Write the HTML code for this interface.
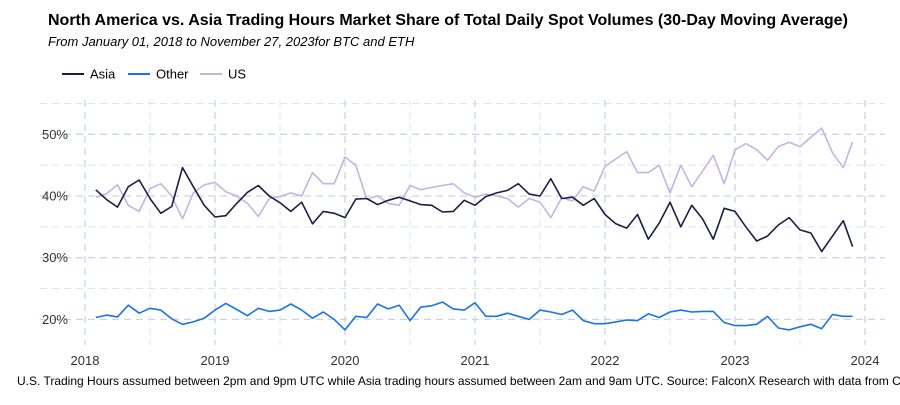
<!DOCTYPE html>
<html><head><meta charset="utf-8"><style>
body{margin:0;background:#fff;width:900px;height:400px;overflow:hidden;font-family:"Liberation Sans",sans-serif}
</style></head><body>
<svg id="chart" width="900" height="400" xmlns="http://www.w3.org/2000/svg" font-family="Liberation Sans, sans-serif">
<text x="48" y="25" font-size="16" font-weight="bold" fill="#000">North America vs. Asia Trading Hours Market Share of Total Daily Spot Volumes (30-Day Moving Average)</text>
<text x="48" y="46" font-size="13" font-style="italic" fill="#000">From January 01, 2018 to November 27, 2023for BTC and ETH</text>
<g>
<g><line x1="62" y1="74" x2="84" y2="74" stroke="#1a1f45" stroke-width="2"/><text x="90" y="78.5" font-size="13">Asia</text></g>
<g><line x1="128" y1="74" x2="150" y2="74" stroke="#1a73e8" stroke-width="2"/><text x="156" y="78.5" font-size="13">Other</text></g>
<g><line x1="200" y1="74" x2="222" y2="74" stroke="#c5b4e3" stroke-width="2"/><text x="228" y="78.5" font-size="13">US</text></g>
</g>
<g id="grid"></g>
<g id="axes"></g>
<g id="series"></g>
<text x="17" y="385" font-size="12" fill="#000">U.S. Trading Hours assumed between 2pm and 9pm UTC while Asia trading hours assumed between 2am and 9am UTC. Source: FalconX Research with data from Coin Metrics</text>
</svg>
<script>
const yTicks=[20,30,40,50];
const yTickLabels=["20%","30%","40%","50%"];
const xTicks=[2018,2019,2020,2021,2022,2023,2024];
const asia=[41,39.4,38.2,41.5,42.6,39.6,37.2,38.3,44.6,41.5,38.5,36.6,36.8,38.8,40.6,41.7,40,38.9,37.5,39,35.5,37.5,37.2,36.5,
39.5,39.6,38.6,39.3,39.8,39.2,38.6,38.5,37.4,37.5,39.3,38.5,39.9,40.5,40.9,42,40.3,40,42.8,39.6,39.8,38.5,39.6,37,
35.5,34.8,37,33,35.6,39,35,38.5,36.3,33,38,37.5,35,32.7,33.5,35.3,36.5,34.5,34,31,33.5,36,31.8];
const other=[20.3,20.7,20.4,22.3,21,21.8,21.5,20.1,19.2,19.6,20.2,21.5,22.6,21.6,20.6,21.8,21.3,21.5,22.5,21.5,20.2,21.2,20,18.3,
20.5,20.3,22.5,21.7,22.3,19.8,22,22.2,22.8,21.7,21.5,22.7,20.5,20.5,21,20.5,20,21.5,21.2,20.8,21.5,19.8,19.3,19.3,
19.6,19.9,19.8,20.9,20.3,21.2,21.5,21.2,21.3,21.3,19.5,19,19,19.2,20.5,18.6,18.3,18.8,19.2,18.5,20.8,20.5,20.5];
const us=[39.8,40.4,41.8,38.5,37.5,41.2,42,40,36.3,40.5,41.8,42.2,40.7,40,38.8,36.7,39.6,39.9,40.5,40,43.8,42,42,46.3,
45,39.5,40,38.8,38.5,41.7,41,41.4,41.7,42,40.5,39.8,40.3,40,39.6,38.2,39.6,39,36.5,39.7,39.2,41.5,40.8,44.8,
46,47.2,43.8,43.8,45,40.5,45,41.5,44,46.6,42,47.5,48.5,47.5,45.8,48,48.7,48,49.5,51,47,44.6,48.8];
const dates=[];
for(let y=2018;y<=2023;y++){for(let m=1;m<=12;m++){if(y===2018&&m===1)continue;if(y===2023&&m>11)continue;dates.push(y+"-"+String(m).padStart(2,"0")+"-01");}}
dates.push("2023-11-27");

const NS="http://www.w3.org/2000/svg";
function xScale(d){if(typeof d==="number")return 85+(d-2018)*130;const p=d.split("-").map(Number);return 85+((p[0]-2018)+(p[1]-1)/12+(p[2]-1)/365)*130;}
function yScale(v){return 196-(v-40)*6.17;}
function mk(tag,attrs,parent){const e=document.createElementNS(NS,tag);for(const k in attrs)e.setAttribute(k,attrs[k]);parent.appendChild(e);return e;}
const grid=document.getElementById("grid"),axes=document.getElementById("axes"),series=document.getElementById("series");
for(let v=15;v<=55;v+=5){const y=yScale(v);if(y<100||y>345)continue;
 const l=mk("line",{x1:40,x2:885,y1:y,y2:y,stroke:v%10===0?"#c9d5ea":"#dde5f2","stroke-width":v%10===0?1.3:1,"stroke-dasharray":"7,5"},grid);
 
 }
for(let t=2018;t<=2024;t+=0.5){const x=xScale(t);
 const l=mk("line",{x1:x,x2:x,y1:100,y2:345,stroke:t%1===0?"#c9d5ea":"#dde5f2","stroke-width":t%1===0?1.3:1,"stroke-dasharray":"7,5"},grid);
 
 }
yTicks.forEach((v,i)=>{const t=mk("text",{x:68,y:yScale(v)+4.5,"font-size":13,"text-anchor":"end",fill:"#333"},axes);t.textContent=yTickLabels[i];
 
 });
xTicks.forEach(v=>{const t=mk("text",{x:xScale(v),y:365,"font-size":13,"text-anchor":"middle",fill:"#333"},axes);t.textContent=String(v);
 
 });
function draw(vals,color,name){const d=vals.map((v,i)=>(i?"L":"M")+xScale(dates[i]).toFixed(1)+","+yScale(v).toFixed(1)).join("");
 const p=mk("path",{d:d,fill:"none",stroke:color,"stroke-width":1.6,"stroke-linejoin":"round"},series);
 
 }
draw(us,"#c5b4e3","us-line");
draw(other,"#1a73e8","other-line");
draw(asia,"#1a1f45","asia-line");
</script>
</body></html>
